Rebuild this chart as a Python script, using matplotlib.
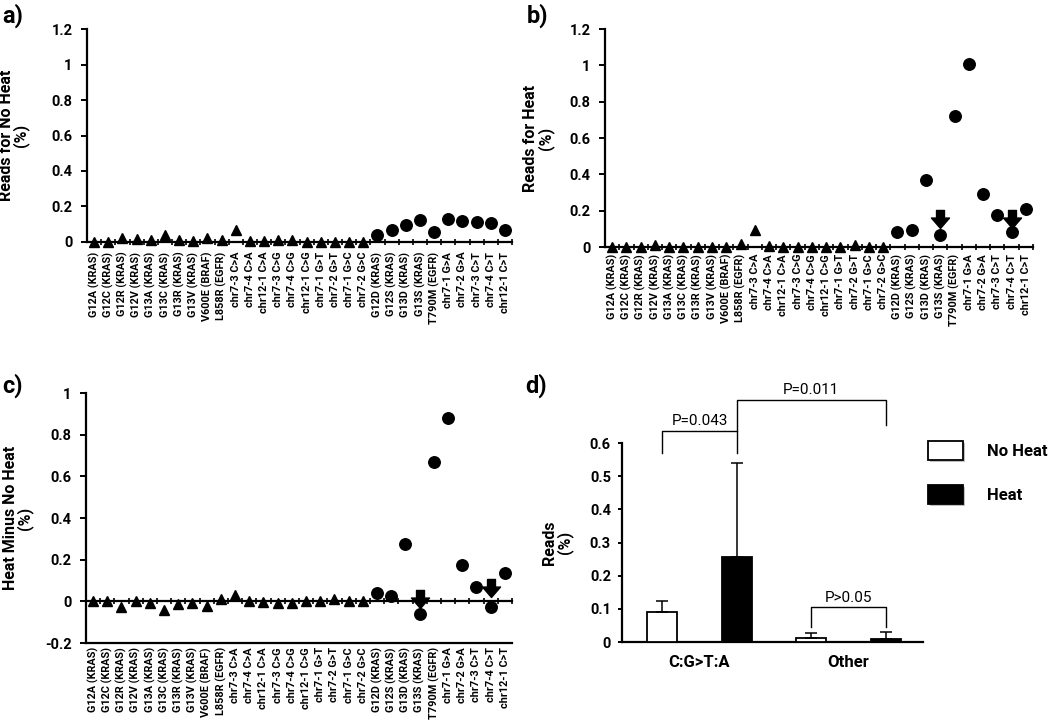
import matplotlib
matplotlib.use('Agg')
import matplotlib.pyplot as plt
import numpy as np
from matplotlib.path import Path
from matplotlib.ticker import FuncFormatter, FixedLocator
import matplotlib.patheffects as pe

plt.rcParams['font.family'] = ['Roboto', 'DejaVu Sans']
plt.rcParams['axes.unicode_minus'] = False

# ---------------- data ----------------
categories = ["G12A (KRAS)", "G12C (KRAS)", "G12R (KRAS)", "G12V (KRAS)", "G13A (KRAS)",
              "G13C (KRAS)", "G13R (KRAS)", "G13V (KRAS)", "V600E (BRAF)", "L858R (EGFR)",
              "chr7-3 C>A", "chr7-4 C>A", "chr12-1 C>A", "chr7-3 C>G", "chr7-4 C>G",
              "chr12-1 C>G", "chr7-1 G>T", "chr7-2 G>T", "chr7-1 G>C", "chr7-2 G>C",
              "G12D (KRAS)", "G12S (KRAS)", "G13D (KRAS)", "G13S (KRAS)", "T790M (EGFR)",
              "chr7-1 G>A", "chr7-2 G>A", "chr7-3 C>T", "chr7-4 C>T", "chr12-1 C>T"]
classes = ["other"] * 20 + ["CG>TA"] * 10

no_heat = [0.0, 0.0, 0.02, 0.015, 0.01, 0.04, 0.01, 0.005, 0.02, 0.01,
           0.065, 0.005, 0.005, 0.01, 0.01, 0.0, 0.0, 0.0, 0.0, 0.0,
           0.04, 0.065, 0.095, 0.125, 0.055, 0.13, 0.12, 0.11, 0.105, 0.07]
heat = [0.0, 0.0, 0.0, 0.01, 0.0, 0.0, 0.0, 0.0, 0.0, 0.015,
        0.095, 0.005, 0.0, 0.0, 0.0, 0.0, 0.0, 0.01, 0.0, 0.0,
        0.08, 0.093, 0.37, 0.066, 0.72, 1.01, 0.29, 0.177, 0.08, 0.21]
heat_minus = [0.0, 0.0, -0.027, 0.0, -0.01, -0.04, -0.013, -0.01, -0.022, 0.011,
              0.032, 0.003, -0.005, -0.01, -0.008, 0.001, 0.002, 0.01, 0.0, 0.0,
              0.038, 0.027, 0.275, -0.063, 0.667, 0.88, 0.176, 0.07, -0.029, 0.138]

arrow_cats = ["G13S (KRAS)", "chr7-4 C>T"]
arrow_y_heat = [0.155, 0.155]
arrow_y_diff = [0.013, 0.063]

groups = ["C:G>T:A", "Other"]
d_no_heat = [0.09, 0.013]
d_no_heat_err = [0.034, 0.015]
d_heat = [0.256, 0.008]
d_heat_err = [0.284, 0.022]

# ---------------- helpers ----------------
arrow_marker = Path([(-0.22, 0.5), (0.22, 0.5), (0.22, 0.08), (0.5, 0.08), (0.0, -0.5),
                     (-0.5, 0.08), (-0.22, 0.08), (-0.22, 0.5)],
                    [Path.MOVETO] + [Path.LINETO] * 6 + [Path.CLOSEPOLY])

fmt = FuncFormatter(lambda v, p: ('%g' % round(v, 2)))


def style_y(ax, ylim, step, pad):
    ax.set_ylim(*ylim)
    ticks = np.arange(ylim[0], ylim[1] + step / 2, step)
    ax.yaxis.set_major_locator(FixedLocator(ticks))
    ax.yaxis.set_major_formatter(fmt)
    ax.tick_params(axis='y', direction='out', length=4.5, width=1.4, pad=pad,
                   labelsize=10.5)
    for lab in ax.get_yticklabels():
        lab.set_fontweight('bold')
    ax.spines['left'].set_linewidth(1.6)
    ax.spines['bottom'].set_linewidth(1.6)
    ax.spines['top'].set_visible(False)
    ax.spines['right'].set_visible(False)


def scatter_panel(ax, values, ylim, step, ylabel, label_x, xpad, arrows=None,
                  zero_line=False):
    x = np.arange(len(categories))
    vals = np.array(values)
    for cls, marker, ms in [("other", "^", 6.5), ("CG>TA", "o", 8.3)]:
        idx = [i for i, c in enumerate(classes) if c == cls]
        ax.plot(x[idx], vals[idx], ls='none', marker=marker, ms=ms, color='black',
                clip_on=False, zorder=4)
    if arrows is not None:
        ax_idx = [categories.index(c) for c in arrows[0]]
        ax.plot(ax_idx, arrows[1], ls='none', marker=arrow_marker, ms=13,
                color='black', zorder=5, clip_on=False)
    ax.set_xlim(-0.5, len(categories) - 0.5)
    style_y(ax, ylim, step, 6)
    ax.set_xticks(x)
    ax.set_xticklabels(categories, rotation=90, fontsize=7.8, fontweight='bold')
    ax.set_xticks(np.arange(0.5, len(categories), 1.0), minor=True)
    if zero_line:
        ax.tick_params(axis='x', which='both', length=0, pad=xpad)
        zero_pos = (0 - ylim[0]) / (ylim[1] - ylim[0])
        sec = ax.secondary_xaxis(zero_pos)
        sec.spines['bottom'].set_linewidth(1.6)
        sec.set_xticks([])
        sec.set_xticks(np.arange(0.5, len(categories), 1.0), minor=True)
        sec.tick_params(which='minor', direction='inout', length=4, width=1.2)
        sec.tick_params(which='major', length=0, labelbottom=False)
    else:
        ax.tick_params(axis='x', which='major', length=0, pad=xpad)
        ax.tick_params(axis='x', which='minor', direction='inout', length=4,
                       width=1.2)
    ax.set_ylabel(ylabel, fontsize=11.5, fontweight='bold', linespacing=0.9)
    ax.yaxis.set_label_coords(label_x, 0.5)


fig = plt.figure(figsize=(10.5, 7.2), dpi=100)

ax_a = fig.add_axes([0.0829, 0.6639, 0.4048, 0.2958])
ax_b = fig.add_axes([0.5762, 0.6569, 0.4076, 0.3028])
ax_c = fig.add_axes([0.0819, 0.1069, 0.4057, 0.3472])
ax_d = fig.add_axes([0.5924, 0.1083, 0.2867, 0.2764])

scatter_panel(ax_a, no_heat, (0, 1.2), 0.2, "Reads for No Heat\n(%)", -0.136, 7)
scatter_panel(ax_b, heat, (0, 1.2), 0.2, "Reads for Heat\n(%)", -0.119, 5,
              arrows=(arrow_cats, arrow_y_heat))
scatter_panel(ax_c, heat_minus, (-0.2, 1.0), 0.2, "Heat Minus No Heat\n(%)", -0.124, 3,
              arrows=(arrow_cats, arrow_y_diff), zero_line=True)

# ---------------- panel d ----------------
gx = np.arange(len(groups))
off, w = 0.25, 0.2
b1 = ax_d.bar(gx - off, d_no_heat, w, color='white', edgecolor='black', linewidth=1.3,
              yerr=[np.zeros(2), d_no_heat_err], capsize=4,
              error_kw=dict(elinewidth=1.1, capthick=1.1, ecolor='black'), zorder=3)
b2 = ax_d.bar(gx + off, d_heat, w, color='black', edgecolor='black', linewidth=1.3,
              yerr=[np.zeros(2), d_heat_err], capsize=4,
              error_kw=dict(elinewidth=1.1, capthick=1.1, ecolor='black'), zorder=3)
ax_d.set_xlim(-0.52, 1.5)
style_y(ax_d, (0, 0.6), 0.1, 5)
ax_d.tick_params(axis='y', length=3)
ax_d.set_xticks(gx)
ax_d.set_xticklabels(groups, fontsize=12, fontweight='bold')
ax_d.tick_params(axis='x', length=0, pad=9)
ax_d.set_ylabel("Reads\n(%)", fontsize=11.5, fontweight='bold', linespacing=0.9)
ax_d.yaxis.set_label_coords(-0.163, 0.5)

brackets = [
    # x1, x2, top, left leg bottom, right leg bottom, text
    (gx[0] - off, gx[0] + off, 0.636, 0.57, 0.57, "P=0.043"),
    (gx[0] + off, gx[1] + off, 0.73, 0.636, 0.653, "P=0.011"),
    (gx[1] - off, gx[1] + off, 0.105, 0.045, 0.045, "P>0.05"),
]
for x1, x2, top, l1, l2, txt in brackets:
    ax_d.plot([x1, x1, x2, x2], [l1, top, top, l2], color='black', lw=1.0,
              clip_on=False, zorder=4)
    ax_d.text((x1 + x2) / 2, top + 0.008, txt, ha='center', va='bottom', fontsize=11)

leg = ax_d.legend([b1, b2], ["No Heat", "Heat"], loc='upper left',
                  bbox_to_anchor=(0.99, 1.05), frameon=False, borderpad=0,
                  handlelength=2.1, handleheight=1.3, handletextpad=1.4,
                  labelspacing=1.55, prop=dict(size=12, weight='bold'))
for h in leg.legend_handles:
    h.set_path_effects([pe.SimplePatchShadow(offset=(1.5, -1.5), shadow_rgbFace='gray',
                                             alpha=0.5), pe.Normal()])

# panel letters
for txt, (px, py) in zip(["a)", "b)", "c)", "d)"],
                         [(2, 4), (527, 4), (2, 374), (525, 374)]):
    fig.text(px / 1050, 1 - py / 720, txt, fontsize=17, fontweight='bold',
             ha='left', va='top')

fig.savefig('out.png', dpi=100, facecolor='white')
